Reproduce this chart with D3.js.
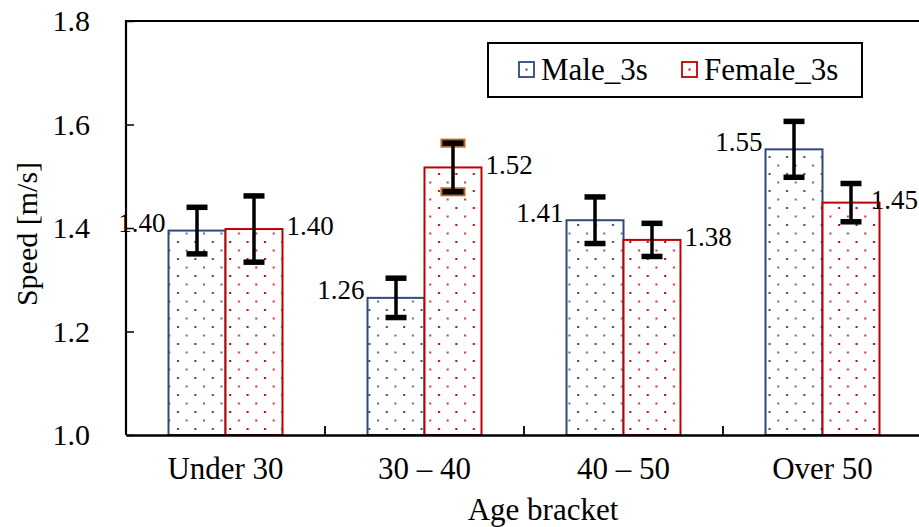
<!DOCTYPE html>
<html lang="en">
<head>
<meta charset="UTF-8">
<title>Speed by age bracket</title>
<script src="https://cdn.jsdelivr.net/npm/d3@7/dist/d3.min.js"></script>
</head>
<body style="margin:0; background:#fff">
<svg id="main" width="919" height="527"></svg>
<script>
// data
const categories = ["Under 30", "30 \u2013 40", "40 \u2013 50", "Over 50"];
const seriesNames = ["Male_3s", "Female_3s"];
const maleSpeed = [1.395, 1.265, 1.415, 1.552];
const femaleSpeed = [1.398, 1.517, 1.377, 1.449];
const maleErr = [0.045, 0.038, 0.045, 0.054];
const femaleErr = [0.064, 0.047, 0.032, 0.037];
const maleLabels = ["1.40", "1.26", "1.41", "1.55"];
const femaleLabels = ["1.40", "1.52", "1.38", "1.45"];
const yTicks = [1.0, 1.2, 1.4, 1.6, 1.8];

const colors = { "Male_3s": "#2E4A7D", "Female_3s": "#C00000" };
const FONT = "'Liberation Serif', 'Times New Roman', Times, serif";
const W = 919;

const svg = d3.select("svg#main");
const plotLeft = 126, plotTop = 21, plotBottom = 435, plotRight = 922;

const rows = [];
categories.forEach((c, i) => {
  rows.push({ cat: c, s: "Male_3s", v: maleSpeed[i], e: maleErr[i], lab: maleLabels[i] });
  rows.push({ cat: c, s: "Female_3s", v: femaleSpeed[i], e: femaleErr[i], lab: femaleLabels[i] });
});

const x0 = d3.scaleBand().domain(categories).range([plotLeft, plotRight]).padding(0);
const x1 = d3.scaleBand().domain(seriesNames).range([0, x0.bandwidth()])
  .paddingInner(0).paddingOuter(0.746);
const y = d3.scaleLinear().domain([1.0, 1.8]).range([plotBottom, plotTop]);

// dot patterns
const defs = svg.append("defs");
seriesNames.forEach(s => {
  const p = defs.append("pattern")
    .attr("id", "dots-" + s)
    .attr("patternUnits", "userSpaceOnUse")
    .attr("width", 17.4).attr("height", 17)
    .attr("x", 0).attr("y", 0);
  p.append("rect").attr("width", 17.4).attr("height", 17).attr("fill", "#fff");
  p.append("rect").attr("x", 3).attr("y", 3).attr("width", 2).attr("height", 2)
    .attr("fill", colors[s]);
  p.append("rect").attr("x", 11.7).attr("y", 11.5).attr("width", 2).attr("height", 2)
    .attr("fill", colors[s]).attr("opacity", 0.8);
});

// bars
svg.append("g").selectAll("rect")
  .data(rows)
  .enter()
  .append("rect")
  .attr("x", d => x0(d.cat) + x1(d.s))
  .attr("y", d => y(d.v))
  .attr("width", x1.bandwidth())
  .attr("height", d => y(1.0) - y(d.v))
  .attr("fill", d => "url(#dots-" + d.s + ")")
  .attr("stroke", d => colors[d.s])
  .attr("stroke-width", 2);

// error bars
const capW = 21;
const eb = svg.append("g");
rows.forEach(d => {
  const cx = x0(d.cat) + x1(d.s) + x1.bandwidth() / 2;
  const g = eb.append("g");
  // this one has orange caps in the original
  if (d.s === "Female_3s" && d.cat === categories[1]) {
    [d.v + d.e, d.v - d.e].forEach(v => {
      g.append("rect").attr("x", cx - capW / 2 - 2).attr("y", y(v) - 4.5)
        .attr("width", capW + 4).attr("height", 9).attr("fill", "#B5642A");
    });
  }
  g.append("line")
    .attr("x1", cx).attr("x2", cx)
    .attr("y1", y(d.v + d.e)).attr("y2", y(d.v - d.e))
    .attr("stroke", "#000").attr("stroke-width", 3.5);
  [d.v + d.e, d.v - d.e].forEach(v => {
    g.append("line")
      .attr("x1", cx - capW / 2).attr("x2", cx + capW / 2)
      .attr("y1", y(v)).attr("y2", y(v))
      .attr("stroke", "#000").attr("stroke-width", 5.5);
  });
});

// data labels
svg.append("g").selectAll("text")
  .data(rows)
  .enter()
  .append("text")
  .attr("x", d => d.s === "Male_3s" ? x0(d.cat) + x1(d.s) - 3 : x0(d.cat) + x1(d.s) + x1.bandwidth() + 4)
  .attr("y", d => d.s === "Male_3s" ? y(d.v) - 8 : y(d.v) - 3)
  .attr("dy", "0.35em")
  .attr("text-anchor", d => d.s === "Male_3s" ? "end" : "start")
  .style("font-family", FONT)
  .style("font-size", "27px")
  .text(d => d.lab)
  .each(function () {
    // keep labels inside the picture (the last one sits over its bar in the original)
    const bb = this.getBBox();
    if (bb.x + bb.width > W) d3.select(this).attr("x", W - bb.width - 1);
  });

// y axis
const yAxis = svg.append("g")
  .attr("transform", "translate(" + plotLeft + ",0)")
  .call(d3.axisLeft(y).tickValues(yTicks).tickFormat(d3.format(".1f")).tickSize(-8).tickSizeOuter(0).tickPadding(36));
yAxis.select(".domain").attr("stroke-width", 2.2).attr("d", "M0," + (plotTop - 1) + "V" + plotBottom);
yAxis.selectAll(".tick line").attr("stroke-width", 1.5);
yAxis.selectAll("text").style("font-size", "30px").style("font-family", FONT);

// top border
svg.append("line")
  .attr("x1", plotLeft).attr("x2", plotRight).attr("y1", plotTop).attr("y2", plotTop)
  .attr("stroke", "#000").attr("stroke-width", 2.2);

// x axis
const xAxis = svg.append("g")
  .attr("transform", "translate(0," + plotBottom + ")")
  .call(d3.axisBottom(x0).tickSize(0).tickPadding(22));
xAxis.select(".domain").attr("stroke-width", 2.5);
xAxis.selectAll("text").style("font-size", "31px").style("font-family", FONT);
// boundary ticks between categories
svg.append("g").selectAll("line")
  .data(categories.slice(1))
  .enter()
  .append("line")
  .attr("x1", d => x0(d)).attr("x2", d => x0(d))
  .attr("y1", plotBottom).attr("y2", plotBottom - 9)
  .attr("stroke", "#000").attr("stroke-width", 1.8);

// axis titles
svg.append("text")
  .attr("transform", "translate(37,234) rotate(-90)")
  .attr("text-anchor", "middle")
  .style("font-family", FONT)
  .style("font-size", "30px")
  .text("Speed [m/s]");
svg.append("text")
  .attr("x", 543).attr("y", 520)
  .attr("text-anchor", "middle")
  .style("font-family", FONT)
  .style("font-size", "31px")
  .text("Age bracket");

// legend
const legend = svg.append("g").attr("transform", "translate(488,43)");
legend.append("rect")
  .attr("width", 374).attr("height", 54)
  .attr("fill", "#fff").attr("stroke", "#000").attr("stroke-width", 2);
const legX = [31, 194];
seriesNames.forEach((s, i) => {
  const g = legend.append("g").attr("transform", "translate(" + legX[i] + ",19)");
  g.append("rect").attr("width", 15).attr("height", 15)
    .attr("fill", "#fff").attr("stroke", colors[s]).attr("stroke-width", 1.8);
  g.append("rect").attr("x", 6.5).attr("y", 6.5).attr("width", 2).attr("height", 2)
    .attr("fill", colors[s]);
  g.append("text").attr("x", 22).attr("y", 7.5).attr("dy", "0.35em")
    .style("font-family", FONT)
    .style("font-size", "31px").text(s);
});
</script>
</body>
</html>
